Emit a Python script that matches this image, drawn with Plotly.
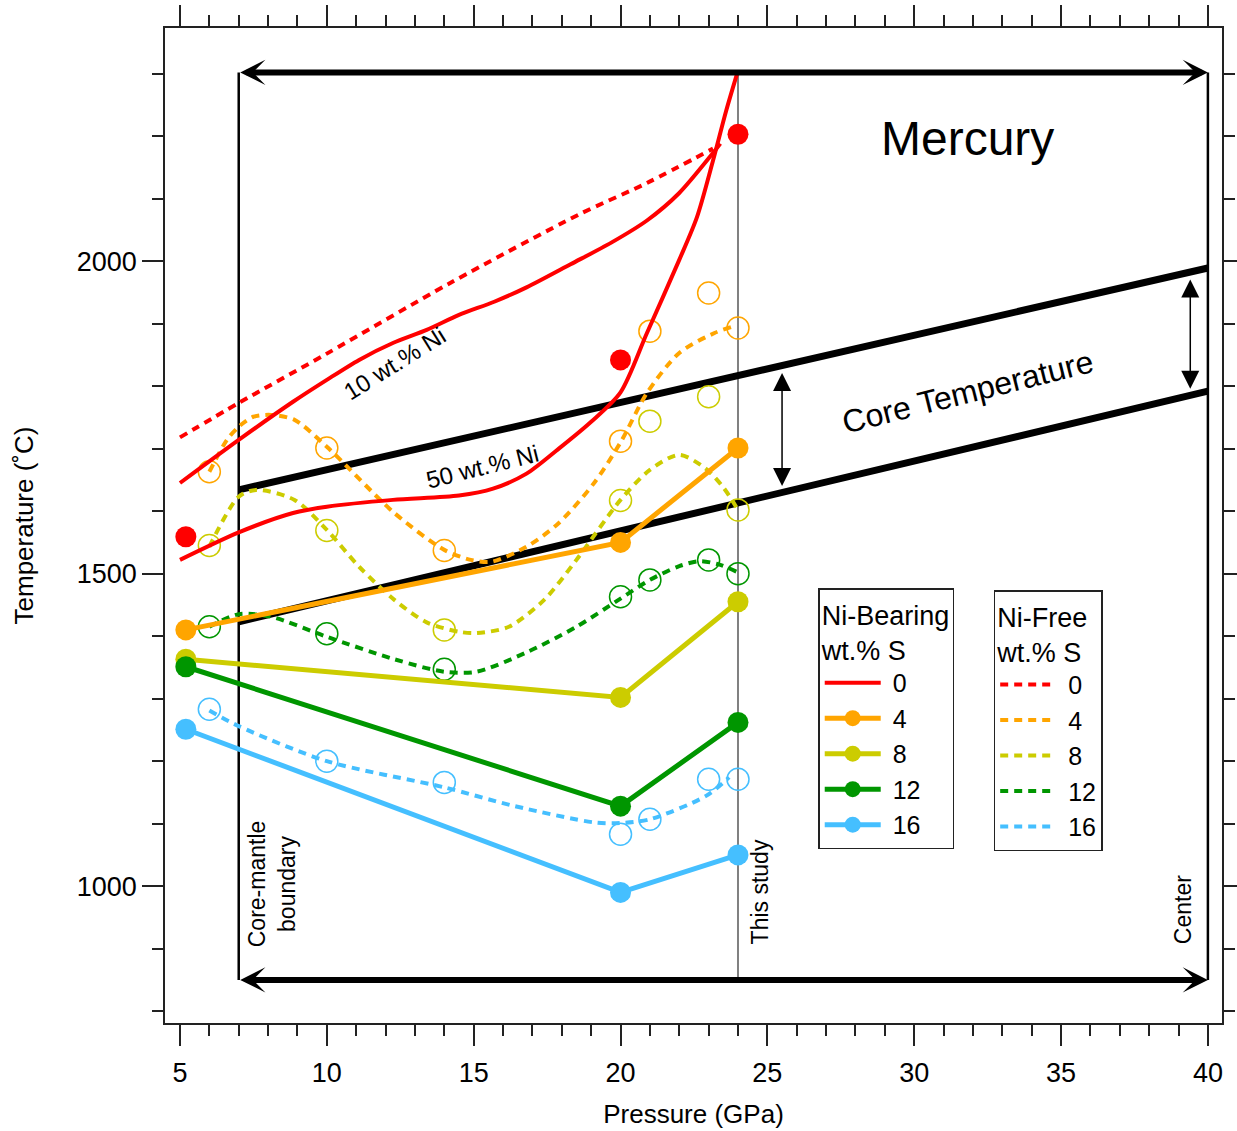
import plotly.graph_objects as go

FONT = "Liberation Sans, Arial, sans-serif"

# ---- Ni-bearing experiments (filled symbols), pressure in GPa, T in degC ----
P_NB = [5.2, 20, 24]
NB_T0 = [1559, 1842, 2203]
NB_T4 = [1410, 1550, 1701]
NB_T8 = [1363, 1302, 1455]
NB_T12 = [1351, 1128, 1262]
NB_T16 = [1251, 990, 1050]

# ---- Ni-free melting points (open symbols) ----
P_NF = [6, 10, 14, 20, 21, 23, 24]
NF_T4 = [1663, 1701, 1537, 1712, 1888, 1949, 1893]
NF_T8 = [1545, 1569, 1410, 1617, 1744, 1783, 1602]
NF_T12 = [1415, 1404, 1347, 1463, 1490, 1522, 1500]
NF_T16 = [1283, 1200, 1166, 1083, 1107, 1171, 1171]

# ---- Ni-free liquidus curves (dotted) ----
NF0_P = [5.0, 7.0, 10.0, 14.2, 18.6, 20.9, 23.15]
NF0_T = [1718, 1773, 1852, 1965, 2075, 2125, 2180]
NF4_P = [6.0, 6.6, 7.0, 7.5, 8.1, 8.9, 10.0, 12.3, 14.0, 14.9, 15.6, 16.8, 17.9, 19.1, 20.0, 20.9, 22.0, 23.2, 23.8]
NF4_T = [1663, 1714, 1735, 1751, 1754, 1746, 1703, 1597, 1538, 1522, 1519, 1543, 1581, 1645, 1710, 1789, 1853, 1885, 1895]
NF8_P = [6.0, 7.0, 7.6, 8.9, 10.0, 11.1, 12.3, 13.4, 14.5, 15.1, 16.2, 17.4, 18.5, 20.0, 21.0, 22.0, 22.9, 23.5, 24.0]
NF8_T = [1543, 1623, 1634, 1618, 1570, 1511, 1458, 1422, 1407, 1405, 1415, 1458, 1522, 1618, 1666, 1690, 1668, 1638, 1602]
NF12_P = [6.0, 7.0, 8.1, 10.0, 12.3, 14.0, 15.1, 16.8, 18.5, 20.0, 21.0, 22.0, 22.7, 23.4, 24.0]
NF12_T = [1415, 1435, 1431, 1399, 1363, 1343, 1343, 1374, 1415, 1460, 1490, 1512, 1520, 1514, 1502]
NF16_P = [6.0, 7.0, 10.0, 14.0, 16.4, 19.1, 20.0, 21.0, 22.9, 23.7]
NF16_T = [1281, 1256, 1200, 1158, 1128, 1102, 1101, 1107, 1144, 1174]

# ---- Fe-Ni liquidus curves, S-free ----
NI10_P = [5.0, 7.0, 8.85, 10.0, 11.1, 12.25, 13.4, 14.5, 15.7, 16.8, 18.3, 19.7, 20.9, 22.0, 23.15, 23.4]
NI10_T = [1645, 1714, 1775, 1810, 1842, 1869, 1890, 1914, 1935, 1958, 1995, 2030, 2065, 2109, 2173, 2188]
NI50_P = [5.0, 7.0, 8.85, 10.0, 12.25, 14.5, 15.66, 16.8, 17.9, 19.0, 20.0, 20.9, 22.0, 22.6, 23.15, 23.6, 23.97]
NI50_T = [1522, 1566, 1597, 1607, 1618, 1625, 1636, 1660, 1700, 1743, 1790, 1885, 2002, 2070, 2161, 2241, 2300]

# ---- Core temperature bounds ----
CORE_P = [7, 40]
CORE_T_UPPER = [1634, 1989]
CORE_T_LOWER = [1423, 1792]

# Pressure markers of the Mercurian core
CMB_P, STUDY_P, CENTER_P = 7, 24, 40
ARROW_T_TOP, ARROW_T_BOTTOM = 2302, 850
BAND_ARROW_P = [25.5, 39.4]

RED, ORANGE, YELLOW, GREEN, BLUE = "#ff0000", "#ffa500", "#cccc00", "#009600", "#45bfff"
DASH = "8px,6px"
NBSP = "\u00a0"

fig = go.Figure()


def interp(p, xs, ys):
    return ys[0] + (ys[1] - ys[0]) * (p - xs[0]) / (xs[1] - xs[0])


# Core temperature band
for t in (CORE_T_UPPER, CORE_T_LOWER):
    fig.add_trace(go.Scatter(x=CORE_P, y=t, mode="lines", line=dict(color="black", width=7),
                             showlegend=False, hoverinfo="skip"))

# Ni-free dotted curves + open circles
nf_curves = [("0", NF0_P, NF0_T, RED), ("4", NF4_P, NF4_T, ORANGE), ("8", NF8_P, NF8_T, YELLOW),
             ("12", NF12_P, NF12_T, GREEN), ("16", NF16_P, NF16_T, BLUE)]
for name, px, pt, col in nf_curves:
    fig.add_trace(go.Scatter(x=px, y=pt, mode="lines", name=NBSP + name, legend="legend2",
                             line=dict(color=col, width=4, dash=DASH, shape="spline", smoothing=0.8)))

for t, col in ((NF_T4, ORANGE), (NF_T8, YELLOW), (NF_T12, GREEN), (NF_T16, BLUE)):
    fig.add_trace(go.Scatter(x=P_NF, y=t, mode="markers", showlegend=False,
                             marker=dict(symbol="circle-open", size=22, color=col, line=dict(width=1.5, color=col))))

# Ni-bearing S-free liquidus curves
fig.add_trace(go.Scatter(x=NI10_P, y=NI10_T, mode="lines", name=NBSP + "0", legend="legend",
                         line=dict(color=RED, width=4, shape="spline", smoothing=0.8)))
fig.add_trace(go.Scatter(x=NI50_P, y=NI50_T, mode="lines", showlegend=False,
                         line=dict(color=RED, width=4, shape="spline", smoothing=0.8)))
fig.add_trace(go.Scatter(x=P_NB, y=NB_T0, mode="markers", showlegend=False,
                         marker=dict(size=21, color=RED)))

# Ni-bearing S-bearing experiments
for name, t, col in (("4", NB_T4, ORANGE), ("8", NB_T8, YELLOW), ("12", NB_T12, GREEN), ("16", NB_T16, BLUE)):
    fig.add_trace(go.Scatter(x=P_NB, y=t, mode="lines+markers", name=NBSP + name, legend="legend",
                             line=dict(color=col, width=5), marker=dict(size=21, color=col)))

# Vertical reference lines
shapes = []
for p, col in ((CMB_P, "black"), (CENTER_P, "black"), (STUDY_P, "#808080")):
    shapes.append(dict(type="line", xref="x", yref="y", x0=p, x1=p, y0=ARROW_T_BOTTOM, y1=ARROW_T_TOP,
                       line=dict(color=col, width=2.5 if col == "black" else 2), layer="below"))

annotations = []
# Double-headed arrows spanning the core
for t in (ARROW_T_TOP, ARROW_T_BOTTOM):
    annotations.append(dict(x=CENTER_P, y=t, ax=CMB_P, ay=t, xref="x", yref="y", axref="x", ayref="y",
                            text="", showarrow=True, arrowhead=3, arrowsize=0.7, arrowwidth=6,
                            arrowside="end+start", arrowcolor="black", standoff=0, startstandoff=0))
# Arrows across the core temperature band
for p in BAND_ARROW_P:
    lo = interp(p, CORE_P, CORE_T_LOWER) + 8
    hi = interp(p, CORE_P, CORE_T_UPPER) - 12
    annotations.append(dict(x=p, y=hi, ax=p, ay=lo, xref="x", yref="y", axref="x", ayref="y",
                            text="", showarrow=True, arrowhead=2, arrowsize=2.4, arrowwidth=1.5,
                            arrowside="end+start", arrowcolor="black", standoff=0, startstandoff=0))

text_items = [
    dict(x=31.83, y=2196, text="Mercury", size=48, angle=0),
    dict(x=31.8, y=1791, text="Core Temperature", size=32, angle=-14),
    dict(x=12.3, y=1837, text="10 wt.% Ni", size=24, angle=-32),
    dict(x=15.3, y=1672, text="50 wt.% Ni", size=24, angle=-14),
    dict(x=8.12, y=1004, text="Core-mantle<br>boundary", size=23, angle=-90),
    dict(x=24.75, y=990, text="This study", size=23, angle=-90),
    dict(x=39.15, y=963, text="Center", size=23, angle=-90),
]
for it in text_items:
    annotations.append(dict(xref="x", yref="y", showarrow=False, x=it["x"], y=it["y"], text=it["text"],
                            textangle=it["angle"],
                            font=dict(family=FONT, color="black", size=it["size"])))

axis_common = dict(showline=True, linewidth=1.5, linecolor="#222", mirror="ticks", ticks="outside",
                   ticklen=21, tickwidth=1.5, tickcolor="#222", showgrid=False, zeroline=False,
                   automargin=False, tickfont=dict(family=FONT, size=27, color="black"))

legend_common = dict(xanchor="left", yanchor="top", bgcolor="white", bordercolor="#222", borderwidth=1.5,
                     font=dict(family=FONT, size=25, color="black"), tracegroupgap=0, itemwidth=56)

fig.update_layout(
    width=1237, height=1131,
    margin=dict(l=165, r=15, t=28, b=108),
    paper_bgcolor="white", plot_bgcolor="white",
    font=dict(family=FONT, color="black"),
    xaxis=dict(range=[4.49, 40.48], tick0=5, dtick=5, ticklabelstandoff=4,
               minor=dict(dtick=1, ticklen=11, tickwidth=1.5, tickcolor="#222", ticks="outside"),
               title=dict(text="Pressure (GPa)", font=dict(family=FONT, size=26), standoff=18),
               **axis_common),
    yaxis=dict(range=[781, 2373], tick0=0, dtick=500,
               minor=dict(dtick=100, ticklen=11, tickwidth=1.5, tickcolor="#222", ticks="outside"),
               title=dict(text="Temperature (˚C)", font=dict(family=FONT, size=26), standoff=36),
               **axis_common),
    legend=dict(x=0.618, y=0.437, title=dict(text="Ni-Bearing<br>wt.% S", font=dict(family=FONT, size=27)),
                **legend_common),
    legend2=dict(x=0.784, y=0.435, title=dict(text="Ni-Free<br>wt.% S", font=dict(family=FONT, size=27)),
                 **legend_common),
    shapes=shapes,
    annotations=annotations,
)

fig.write_html("out.html")
